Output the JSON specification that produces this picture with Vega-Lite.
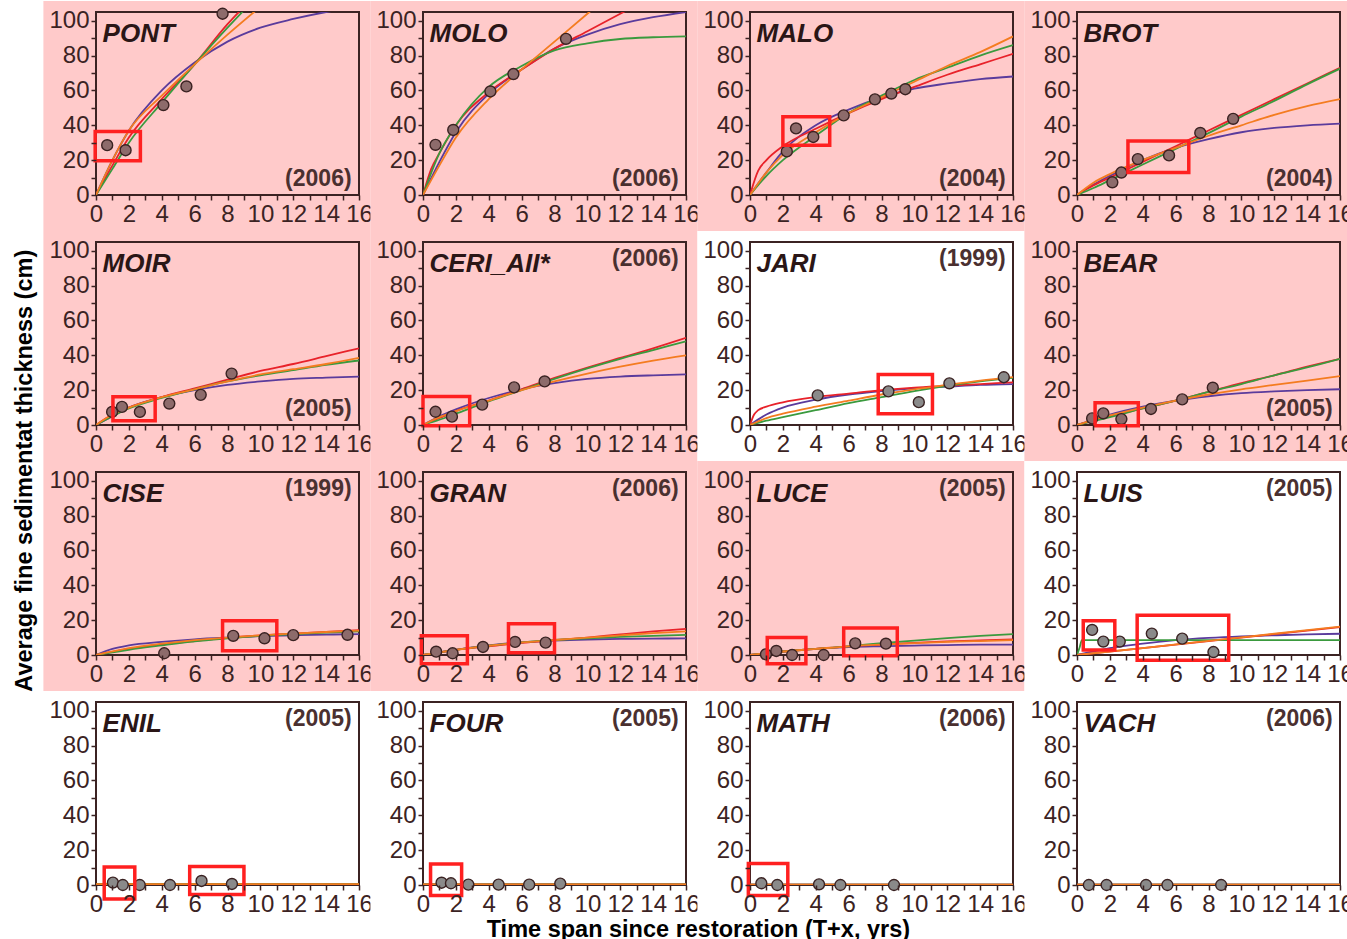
{
"$schema": "https://vega.github.io/schema/vega-lite/v6.json",
"background": "white",
"padding": {"left": 12, "top": 0, "right": 0, "bottom": 0},
"title": {"text": "Average fine sedimentat thickness (cm)", "orient": "left", "anchor": "middle", "fontSize": 23.5, "fontWeight": "bold", "font": "Liberation Sans", "color": "#000000", "offset": 7, "zindex": 1},
"datasets": {
"all": [
{"k":"p","p":"PONT","yr":"(2006)","grp":"A"},{"k":"p","p":"MOLO","yr":"(2006)","grp":"A"},{"k":"p","p":"MALO","yr":"(2004)","grp":"A"},{"k":"p","p":"BROT","yr":"(2004)","grp":"A"},
{"k":"p","p":"MOIR","yr":"(2005)","grp":"A"},{"k":"p","p":"CERI_AII*","yr":"(2006)","grp":"A"},{"k":"p","p":"JARI","yr":"(1999)","grp":"B"},{"k":"p","p":"BEAR","yr":"(2005)","grp":"A"},
{"k":"p","p":"CISE","yr":"(1999)","grp":"A"},{"k":"p","p":"GRAN","yr":"(2006)","grp":"A"},{"k":"p","p":"LUCE","yr":"(2005)","grp":"A"},{"k":"p","p":"LUIS","yr":"(2005)","grp":"B"},
{"k":"p","p":"ENIL","yr":"(2005)","grp":"B"},{"k":"p","p":"FOUR","yr":"(2005)","grp":"B"},{"k":"p","p":"MATH","yr":"(2006)","grp":"B"},{"k":"p","p":"VACH","yr":"(2006)","grp":"B"},

{"k":"f","p":"PONT","m":"pu","x":0,"y":0},{"k":"f","p":"PONT","m":"pu","x":1,"y":20},{"k":"f","p":"PONT","m":"pu","x":2,"y":37},{"k":"f","p":"PONT","m":"pu","x":4,"y":60},{"k":"f","p":"PONT","m":"pu","x":6,"y":76},{"k":"f","p":"PONT","m":"pu","x":8,"y":88},{"k":"f","p":"PONT","m":"pu","x":10,"y":96},{"k":"f","p":"PONT","m":"pu","x":12,"y":101},{"k":"f","p":"PONT","m":"pu","x":14,"y":105},{"k":"f","p":"PONT","m":"pu","x":16,"y":108},
{"k":"f","p":"PONT","m":"re","x":0,"y":0},{"k":"f","p":"PONT","m":"re","x":1,"y":17},{"k":"f","p":"PONT","m":"re","x":2,"y":33},{"k":"f","p":"PONT","m":"re","x":4,"y":55},{"k":"f","p":"PONT","m":"re","x":6,"y":75},{"k":"f","p":"PONT","m":"re","x":8,"y":98},{"k":"f","p":"PONT","m":"re","x":9,"y":108},
{"k":"f","p":"PONT","m":"gr","x":0,"y":0},{"k":"f","p":"PONT","m":"gr","x":1,"y":15},{"k":"f","p":"PONT","m":"gr","x":2,"y":30},{"k":"f","p":"PONT","m":"gr","x":4,"y":53},{"k":"f","p":"PONT","m":"gr","x":6,"y":75},{"k":"f","p":"PONT","m":"gr","x":8,"y":96},{"k":"f","p":"PONT","m":"gr","x":9,"y":106},
{"k":"f","p":"PONT","m":"or","x":0,"y":0},{"k":"f","p":"PONT","m":"or","x":1,"y":20},{"k":"f","p":"PONT","m":"or","x":2,"y":37},{"k":"f","p":"PONT","m":"or","x":4,"y":57},{"k":"f","p":"PONT","m":"or","x":6,"y":75},{"k":"f","p":"PONT","m":"or","x":8,"y":92},{"k":"f","p":"PONT","m":"or","x":10,"y":108},

{"k":"f","p":"MOLO","m":"pu","x":0,"y":0},{"k":"f","p":"MOLO","m":"pu","x":1,"y":19},{"k":"f","p":"MOLO","m":"pu","x":2,"y":36},{"k":"f","p":"MOLO","m":"pu","x":4,"y":58},{"k":"f","p":"MOLO","m":"pu","x":6,"y":72},{"k":"f","p":"MOLO","m":"pu","x":8,"y":84},{"k":"f","p":"MOLO","m":"pu","x":10,"y":92},{"k":"f","p":"MOLO","m":"pu","x":12,"y":98},{"k":"f","p":"MOLO","m":"pu","x":14,"y":102},{"k":"f","p":"MOLO","m":"pu","x":16,"y":105},
{"k":"f","p":"MOLO","m":"re","x":0,"y":0},{"k":"f","p":"MOLO","m":"re","x":0.5,"y":15},{"k":"f","p":"MOLO","m":"re","x":1,"y":24},{"k":"f","p":"MOLO","m":"re","x":2,"y":40},{"k":"f","p":"MOLO","m":"re","x":4,"y":59},{"k":"f","p":"MOLO","m":"re","x":6,"y":72},{"k":"f","p":"MOLO","m":"re","x":8,"y":84},{"k":"f","p":"MOLO","m":"re","x":10,"y":94},{"k":"f","p":"MOLO","m":"re","x":12,"y":104},{"k":"f","p":"MOLO","m":"re","x":13,"y":109},
{"k":"f","p":"MOLO","m":"gr","x":0,"y":0},{"k":"f","p":"MOLO","m":"gr","x":1,"y":24},{"k":"f","p":"MOLO","m":"gr","x":2,"y":40},{"k":"f","p":"MOLO","m":"gr","x":4,"y":62},{"k":"f","p":"MOLO","m":"gr","x":6,"y":74},{"k":"f","p":"MOLO","m":"gr","x":8,"y":83},{"k":"f","p":"MOLO","m":"gr","x":10,"y":87},{"k":"f","p":"MOLO","m":"gr","x":12,"y":89.5},{"k":"f","p":"MOLO","m":"gr","x":14,"y":90.5},{"k":"f","p":"MOLO","m":"gr","x":16,"y":91},
{"k":"f","p":"MOLO","m":"or","x":0,"y":0},{"k":"f","p":"MOLO","m":"or","x":1,"y":17},{"k":"f","p":"MOLO","m":"or","x":2,"y":33},{"k":"f","p":"MOLO","m":"or","x":4,"y":55},{"k":"f","p":"MOLO","m":"or","x":6,"y":72},{"k":"f","p":"MOLO","m":"or","x":8,"y":88},{"k":"f","p":"MOLO","m":"or","x":10,"y":104},{"k":"f","p":"MOLO","m":"or","x":11,"y":112},

{"k":"f","p":"MALO","m":"pu","x":0,"y":0},{"k":"f","p":"MALO","m":"pu","x":1,"y":13},{"k":"f","p":"MALO","m":"pu","x":2,"y":25},{"k":"f","p":"MALO","m":"pu","x":4,"y":40},{"k":"f","p":"MALO","m":"pu","x":6,"y":49},{"k":"f","p":"MALO","m":"pu","x":8,"y":56},{"k":"f","p":"MALO","m":"pu","x":10,"y":61},{"k":"f","p":"MALO","m":"pu","x":12,"y":64},{"k":"f","p":"MALO","m":"pu","x":14,"y":66.5},{"k":"f","p":"MALO","m":"pu","x":16,"y":68},
{"k":"f","p":"MALO","m":"re","x":0,"y":0},{"k":"f","p":"MALO","m":"re","x":0.5,"y":14},{"k":"f","p":"MALO","m":"re","x":1,"y":20},{"k":"f","p":"MALO","m":"re","x":2,"y":28},{"k":"f","p":"MALO","m":"re","x":4,"y":38},{"k":"f","p":"MALO","m":"re","x":6,"y":47},{"k":"f","p":"MALO","m":"re","x":8,"y":55},{"k":"f","p":"MALO","m":"re","x":10,"y":62},{"k":"f","p":"MALO","m":"re","x":12,"y":69},{"k":"f","p":"MALO","m":"re","x":14,"y":75},{"k":"f","p":"MALO","m":"re","x":16,"y":81},
{"k":"f","p":"MALO","m":"gr","x":0,"y":0},{"k":"f","p":"MALO","m":"gr","x":1,"y":11},{"k":"f","p":"MALO","m":"gr","x":2,"y":20},{"k":"f","p":"MALO","m":"gr","x":4,"y":34},{"k":"f","p":"MALO","m":"gr","x":6,"y":47},{"k":"f","p":"MALO","m":"gr","x":8,"y":57},{"k":"f","p":"MALO","m":"gr","x":10,"y":66},{"k":"f","p":"MALO","m":"gr","x":12,"y":73},{"k":"f","p":"MALO","m":"gr","x":14,"y":80},{"k":"f","p":"MALO","m":"gr","x":16,"y":86},
{"k":"f","p":"MALO","m":"or","x":0,"y":0},{"k":"f","p":"MALO","m":"or","x":1,"y":13},{"k":"f","p":"MALO","m":"or","x":2,"y":23},{"k":"f","p":"MALO","m":"or","x":4,"y":36},{"k":"f","p":"MALO","m":"or","x":6,"y":47},{"k":"f","p":"MALO","m":"or","x":8,"y":56},{"k":"f","p":"MALO","m":"or","x":10,"y":65},{"k":"f","p":"MALO","m":"or","x":12,"y":74},{"k":"f","p":"MALO","m":"or","x":14,"y":82},{"k":"f","p":"MALO","m":"or","x":16,"y":91},

{"k":"f","p":"BROT","m":"pu","x":0,"y":0},{"k":"f","p":"BROT","m":"pu","x":1,"y":6},{"k":"f","p":"BROT","m":"pu","x":2,"y":11},{"k":"f","p":"BROT","m":"pu","x":4,"y":20},{"k":"f","p":"BROT","m":"pu","x":6,"y":27},{"k":"f","p":"BROT","m":"pu","x":8,"y":32},{"k":"f","p":"BROT","m":"pu","x":10,"y":36},{"k":"f","p":"BROT","m":"pu","x":12,"y":38.5},{"k":"f","p":"BROT","m":"pu","x":14,"y":40},{"k":"f","p":"BROT","m":"pu","x":16,"y":41},
{"k":"f","p":"BROT","m":"re","x":0,"y":0},{"k":"f","p":"BROT","m":"re","x":0.5,"y":3},{"k":"f","p":"BROT","m":"re","x":1,"y":5.5},{"k":"f","p":"BROT","m":"re","x":2,"y":10},{"k":"f","p":"BROT","m":"re","x":4,"y":19},{"k":"f","p":"BROT","m":"re","x":6,"y":28},{"k":"f","p":"BROT","m":"re","x":8,"y":37},{"k":"f","p":"BROT","m":"re","x":10,"y":46},{"k":"f","p":"BROT","m":"re","x":12,"y":55},{"k":"f","p":"BROT","m":"re","x":14,"y":64},{"k":"f","p":"BROT","m":"re","x":16,"y":73},
{"k":"f","p":"BROT","m":"gr","x":0,"y":0},{"k":"f","p":"BROT","m":"gr","x":1,"y":4},{"k":"f","p":"BROT","m":"gr","x":2,"y":8.5},{"k":"f","p":"BROT","m":"gr","x":4,"y":17.5},{"k":"f","p":"BROT","m":"gr","x":6,"y":26.5},{"k":"f","p":"BROT","m":"gr","x":8,"y":35.5},{"k":"f","p":"BROT","m":"gr","x":10,"y":45},{"k":"f","p":"BROT","m":"gr","x":12,"y":54},{"k":"f","p":"BROT","m":"gr","x":14,"y":63.5},{"k":"f","p":"BROT","m":"gr","x":16,"y":72.5},
{"k":"f","p":"BROT","m":"or","x":0,"y":0},{"k":"f","p":"BROT","m":"or","x":1,"y":7},{"k":"f","p":"BROT","m":"or","x":2,"y":12},{"k":"f","p":"BROT","m":"or","x":4,"y":20},{"k":"f","p":"BROT","m":"or","x":6,"y":27},{"k":"f","p":"BROT","m":"or","x":8,"y":34},{"k":"f","p":"BROT","m":"or","x":10,"y":40},{"k":"f","p":"BROT","m":"or","x":12,"y":46},{"k":"f","p":"BROT","m":"or","x":14,"y":51},{"k":"f","p":"BROT","m":"or","x":16,"y":55},

{"k":"f","p":"MOIR","m":"pu","x":0,"y":0},{"k":"f","p":"MOIR","m":"pu","x":1,"y":5},{"k":"f","p":"MOIR","m":"pu","x":2,"y":10},{"k":"f","p":"MOIR","m":"pu","x":4,"y":16},{"k":"f","p":"MOIR","m":"pu","x":6,"y":20},{"k":"f","p":"MOIR","m":"pu","x":8,"y":23},{"k":"f","p":"MOIR","m":"pu","x":10,"y":25},{"k":"f","p":"MOIR","m":"pu","x":12,"y":26.5},{"k":"f","p":"MOIR","m":"pu","x":14,"y":27.2},{"k":"f","p":"MOIR","m":"pu","x":16,"y":27.8},
{"k":"f","p":"MOIR","m":"re","x":0,"y":0},{"k":"f","p":"MOIR","m":"re","x":1,"y":6},{"k":"f","p":"MOIR","m":"re","x":2,"y":10},{"k":"f","p":"MOIR","m":"re","x":4,"y":16},{"k":"f","p":"MOIR","m":"re","x":6,"y":21},{"k":"f","p":"MOIR","m":"re","x":8,"y":26},{"k":"f","p":"MOIR","m":"re","x":10,"y":31},{"k":"f","p":"MOIR","m":"re","x":12,"y":35},{"k":"f","p":"MOIR","m":"re","x":14,"y":39.5},{"k":"f","p":"MOIR","m":"re","x":16,"y":44},
{"k":"f","p":"MOIR","m":"gr","x":0,"y":0},{"k":"f","p":"MOIR","m":"gr","x":1,"y":5},{"k":"f","p":"MOIR","m":"gr","x":2,"y":9.5},{"k":"f","p":"MOIR","m":"gr","x":4,"y":15.5},{"k":"f","p":"MOIR","m":"gr","x":6,"y":20.5},{"k":"f","p":"MOIR","m":"gr","x":8,"y":25},{"k":"f","p":"MOIR","m":"gr","x":10,"y":28.5},{"k":"f","p":"MOIR","m":"gr","x":12,"y":31.5},{"k":"f","p":"MOIR","m":"gr","x":14,"y":34.5},{"k":"f","p":"MOIR","m":"gr","x":16,"y":37},
{"k":"f","p":"MOIR","m":"or","x":0,"y":0},{"k":"f","p":"MOIR","m":"or","x":1,"y":6},{"k":"f","p":"MOIR","m":"or","x":2,"y":10},{"k":"f","p":"MOIR","m":"or","x":4,"y":16},{"k":"f","p":"MOIR","m":"or","x":6,"y":20.5},{"k":"f","p":"MOIR","m":"or","x":8,"y":25},{"k":"f","p":"MOIR","m":"or","x":10,"y":29},{"k":"f","p":"MOIR","m":"or","x":12,"y":32},{"k":"f","p":"MOIR","m":"or","x":14,"y":35},{"k":"f","p":"MOIR","m":"or","x":16,"y":38.5},

{"k":"f","p":"CERI_AII*","m":"pu","x":0,"y":0},{"k":"f","p":"CERI_AII*","m":"pu","x":1,"y":5},{"k":"f","p":"CERI_AII*","m":"pu","x":2,"y":9},{"k":"f","p":"CERI_AII*","m":"pu","x":4,"y":15.5},{"k":"f","p":"CERI_AII*","m":"pu","x":6,"y":20.5},{"k":"f","p":"CERI_AII*","m":"pu","x":8,"y":24},{"k":"f","p":"CERI_AII*","m":"pu","x":10,"y":26.5},{"k":"f","p":"CERI_AII*","m":"pu","x":12,"y":27.8},{"k":"f","p":"CERI_AII*","m":"pu","x":14,"y":28.5},{"k":"f","p":"CERI_AII*","m":"pu","x":16,"y":29},
{"k":"f","p":"CERI_AII*","m":"re","x":0,"y":0},{"k":"f","p":"CERI_AII*","m":"re","x":1,"y":4},{"k":"f","p":"CERI_AII*","m":"re","x":2,"y":8},{"k":"f","p":"CERI_AII*","m":"re","x":4,"y":14},{"k":"f","p":"CERI_AII*","m":"re","x":6,"y":20.5},{"k":"f","p":"CERI_AII*","m":"re","x":8,"y":27},{"k":"f","p":"CERI_AII*","m":"re","x":10,"y":33},{"k":"f","p":"CERI_AII*","m":"re","x":12,"y":38.5},{"k":"f","p":"CERI_AII*","m":"re","x":14,"y":44},{"k":"f","p":"CERI_AII*","m":"re","x":16,"y":50},
{"k":"f","p":"CERI_AII*","m":"gr","x":0,"y":0},{"k":"f","p":"CERI_AII*","m":"gr","x":1,"y":3},{"k":"f","p":"CERI_AII*","m":"gr","x":2,"y":6.5},{"k":"f","p":"CERI_AII*","m":"gr","x":4,"y":13.5},{"k":"f","p":"CERI_AII*","m":"gr","x":6,"y":20},{"k":"f","p":"CERI_AII*","m":"gr","x":8,"y":26.5},{"k":"f","p":"CERI_AII*","m":"gr","x":10,"y":32.5},{"k":"f","p":"CERI_AII*","m":"gr","x":12,"y":38},{"k":"f","p":"CERI_AII*","m":"gr","x":14,"y":43},{"k":"f","p":"CERI_AII*","m":"gr","x":16,"y":48},
{"k":"f","p":"CERI_AII*","m":"or","x":0,"y":0},{"k":"f","p":"CERI_AII*","m":"or","x":1,"y":4.5},{"k":"f","p":"CERI_AII*","m":"or","x":2,"y":8},{"k":"f","p":"CERI_AII*","m":"or","x":4,"y":14},{"k":"f","p":"CERI_AII*","m":"or","x":6,"y":20},{"k":"f","p":"CERI_AII*","m":"or","x":8,"y":25},{"k":"f","p":"CERI_AII*","m":"or","x":10,"y":29.5},{"k":"f","p":"CERI_AII*","m":"or","x":12,"y":33.5},{"k":"f","p":"CERI_AII*","m":"or","x":14,"y":37},{"k":"f","p":"CERI_AII*","m":"or","x":16,"y":40},

{"k":"f","p":"JARI","m":"pu","x":0,"y":0},{"k":"f","p":"JARI","m":"pu","x":1,"y":6},{"k":"f","p":"JARI","m":"pu","x":2,"y":10},{"k":"f","p":"JARI","m":"pu","x":4,"y":14.5},{"k":"f","p":"JARI","m":"pu","x":6,"y":17.5},{"k":"f","p":"JARI","m":"pu","x":8,"y":19.5},{"k":"f","p":"JARI","m":"pu","x":10,"y":21},{"k":"f","p":"JARI","m":"pu","x":12,"y":22},{"k":"f","p":"JARI","m":"pu","x":14,"y":23},{"k":"f","p":"JARI","m":"pu","x":16,"y":23.5},
{"k":"f","p":"JARI","m":"re","x":0,"y":0},{"k":"f","p":"JARI","m":"re","x":0.25,"y":6},{"k":"f","p":"JARI","m":"re","x":0.5,"y":8.5},{"k":"f","p":"JARI","m":"re","x":1,"y":10.5},{"k":"f","p":"JARI","m":"re","x":2,"y":13},{"k":"f","p":"JARI","m":"re","x":4,"y":16},{"k":"f","p":"JARI","m":"re","x":6,"y":18},{"k":"f","p":"JARI","m":"re","x":8,"y":20},{"k":"f","p":"JARI","m":"re","x":10,"y":21.5},{"k":"f","p":"JARI","m":"re","x":12,"y":22.5},{"k":"f","p":"JARI","m":"re","x":14,"y":23.5},{"k":"f","p":"JARI","m":"re","x":16,"y":24.5},
{"k":"f","p":"JARI","m":"gr","x":0,"y":0},{"k":"f","p":"JARI","m":"gr","x":1,"y":2.5},{"k":"f","p":"JARI","m":"gr","x":2,"y":4.5},{"k":"f","p":"JARI","m":"gr","x":4,"y":8.5},{"k":"f","p":"JARI","m":"gr","x":6,"y":12.5},{"k":"f","p":"JARI","m":"gr","x":8,"y":16},{"k":"f","p":"JARI","m":"gr","x":10,"y":19.5},{"k":"f","p":"JARI","m":"gr","x":12,"y":22.5},{"k":"f","p":"JARI","m":"gr","x":14,"y":25},{"k":"f","p":"JARI","m":"gr","x":16,"y":27},
{"k":"f","p":"JARI","m":"or","x":0,"y":0},{"k":"f","p":"JARI","m":"or","x":1,"y":4},{"k":"f","p":"JARI","m":"or","x":2,"y":6.5},{"k":"f","p":"JARI","m":"or","x":4,"y":10.5},{"k":"f","p":"JARI","m":"or","x":6,"y":14},{"k":"f","p":"JARI","m":"or","x":8,"y":17.5},{"k":"f","p":"JARI","m":"or","x":10,"y":20.5},{"k":"f","p":"JARI","m":"or","x":12,"y":23},{"k":"f","p":"JARI","m":"or","x":14,"y":25.5},{"k":"f","p":"JARI","m":"or","x":16,"y":27.5},

{"k":"f","p":"BEAR","m":"pu","x":0,"y":0},{"k":"f","p":"BEAR","m":"pu","x":1,"y":3},{"k":"f","p":"BEAR","m":"pu","x":2,"y":6},{"k":"f","p":"BEAR","m":"pu","x":4,"y":10.5},{"k":"f","p":"BEAR","m":"pu","x":6,"y":14},{"k":"f","p":"BEAR","m":"pu","x":8,"y":16.5},{"k":"f","p":"BEAR","m":"pu","x":10,"y":18.3},{"k":"f","p":"BEAR","m":"pu","x":12,"y":19.3},{"k":"f","p":"BEAR","m":"pu","x":14,"y":20},{"k":"f","p":"BEAR","m":"pu","x":16,"y":20.5},
{"k":"f","p":"BEAR","m":"re","x":0,"y":0},{"k":"f","p":"BEAR","m":"re","x":2,"y":5},{"k":"f","p":"BEAR","m":"re","x":4,"y":9.5},{"k":"f","p":"BEAR","m":"re","x":6,"y":14},{"k":"f","p":"BEAR","m":"re","x":8,"y":19},{"k":"f","p":"BEAR","m":"re","x":10,"y":24},{"k":"f","p":"BEAR","m":"re","x":12,"y":28.5},{"k":"f","p":"BEAR","m":"re","x":14,"y":33.5},{"k":"f","p":"BEAR","m":"re","x":16,"y":38},
{"k":"f","p":"BEAR","m":"gr","x":0,"y":0},{"k":"f","p":"BEAR","m":"gr","x":2,"y":4.5},{"k":"f","p":"BEAR","m":"gr","x":4,"y":9.5},{"k":"f","p":"BEAR","m":"gr","x":6,"y":14},{"k":"f","p":"BEAR","m":"gr","x":8,"y":19},{"k":"f","p":"BEAR","m":"gr","x":10,"y":23.5},{"k":"f","p":"BEAR","m":"gr","x":12,"y":28.5},{"k":"f","p":"BEAR","m":"gr","x":14,"y":33},{"k":"f","p":"BEAR","m":"gr","x":16,"y":38},
{"k":"f","p":"BEAR","m":"or","x":0,"y":0},{"k":"f","p":"BEAR","m":"or","x":1,"y":3},{"k":"f","p":"BEAR","m":"or","x":2,"y":5.5},{"k":"f","p":"BEAR","m":"or","x":4,"y":10},{"k":"f","p":"BEAR","m":"or","x":6,"y":14},{"k":"f","p":"BEAR","m":"or","x":8,"y":17.5},{"k":"f","p":"BEAR","m":"or","x":10,"y":20.5},{"k":"f","p":"BEAR","m":"or","x":12,"y":23},{"k":"f","p":"BEAR","m":"or","x":14,"y":25.5},{"k":"f","p":"BEAR","m":"or","x":16,"y":28},

{"k":"f","p":"CISE","m":"pu","x":0,"y":0},{"k":"f","p":"CISE","m":"pu","x":1,"y":3.5},{"k":"f","p":"CISE","m":"pu","x":2,"y":5.5},{"k":"f","p":"CISE","m":"pu","x":4,"y":7.5},{"k":"f","p":"CISE","m":"pu","x":6,"y":9},{"k":"f","p":"CISE","m":"pu","x":8,"y":10},{"k":"f","p":"CISE","m":"pu","x":10,"y":10.8},{"k":"f","p":"CISE","m":"pu","x":12,"y":11.3},{"k":"f","p":"CISE","m":"pu","x":14,"y":11.7},{"k":"f","p":"CISE","m":"pu","x":16,"y":12},
{"k":"f","p":"CISE","m":"re","x":0,"y":0},{"k":"f","p":"CISE","m":"re","x":2,"y":3.5},{"k":"f","p":"CISE","m":"re","x":4,"y":6},{"k":"f","p":"CISE","m":"re","x":6,"y":8},{"k":"f","p":"CISE","m":"re","x":8,"y":9.8},{"k":"f","p":"CISE","m":"re","x":10,"y":11.2},{"k":"f","p":"CISE","m":"re","x":12,"y":12.3},{"k":"f","p":"CISE","m":"re","x":14,"y":13.3},{"k":"f","p":"CISE","m":"re","x":16,"y":14.2},
{"k":"f","p":"CISE","m":"gr","x":0,"y":0},{"k":"f","p":"CISE","m":"gr","x":1,"y":1.5},{"k":"f","p":"CISE","m":"gr","x":2,"y":3},{"k":"f","p":"CISE","m":"gr","x":4,"y":5.5},{"k":"f","p":"CISE","m":"gr","x":6,"y":7.8},{"k":"f","p":"CISE","m":"gr","x":8,"y":9.5},{"k":"f","p":"CISE","m":"gr","x":10,"y":11},{"k":"f","p":"CISE","m":"gr","x":12,"y":12},{"k":"f","p":"CISE","m":"gr","x":14,"y":12.8},{"k":"f","p":"CISE","m":"gr","x":16,"y":13.5},
{"k":"f","p":"CISE","m":"or","x":0,"y":0},{"k":"f","p":"CISE","m":"or","x":2,"y":4},{"k":"f","p":"CISE","m":"or","x":4,"y":6.5},{"k":"f","p":"CISE","m":"or","x":6,"y":8.5},{"k":"f","p":"CISE","m":"or","x":8,"y":10},{"k":"f","p":"CISE","m":"or","x":10,"y":11.3},{"k":"f","p":"CISE","m":"or","x":12,"y":12.3},{"k":"f","p":"CISE","m":"or","x":14,"y":13.2},{"k":"f","p":"CISE","m":"or","x":16,"y":14},

{"k":"f","p":"GRAN","m":"pu","x":0,"y":0},{"k":"f","p":"GRAN","m":"pu","x":2,"y":3},{"k":"f","p":"GRAN","m":"pu","x":4,"y":5.5},{"k":"f","p":"GRAN","m":"pu","x":6,"y":7.3},{"k":"f","p":"GRAN","m":"pu","x":8,"y":8.3},{"k":"f","p":"GRAN","m":"pu","x":10,"y":8.9},{"k":"f","p":"GRAN","m":"pu","x":12,"y":9.2},{"k":"f","p":"GRAN","m":"pu","x":14,"y":9.4},{"k":"f","p":"GRAN","m":"pu","x":16,"y":9.5},
{"k":"f","p":"GRAN","m":"re","x":0,"y":0},{"k":"f","p":"GRAN","m":"re","x":2,"y":3},{"k":"f","p":"GRAN","m":"re","x":4,"y":5},{"k":"f","p":"GRAN","m":"re","x":6,"y":7},{"k":"f","p":"GRAN","m":"re","x":8,"y":8.5},{"k":"f","p":"GRAN","m":"re","x":10,"y":10},{"k":"f","p":"GRAN","m":"re","x":12,"y":11.8},{"k":"f","p":"GRAN","m":"re","x":14,"y":13.5},{"k":"f","p":"GRAN","m":"re","x":16,"y":15},
{"k":"f","p":"GRAN","m":"gr","x":0,"y":0},{"k":"f","p":"GRAN","m":"gr","x":2,"y":3},{"k":"f","p":"GRAN","m":"gr","x":4,"y":5.3},{"k":"f","p":"GRAN","m":"gr","x":6,"y":7.3},{"k":"f","p":"GRAN","m":"gr","x":8,"y":8.6},{"k":"f","p":"GRAN","m":"gr","x":10,"y":9.6},{"k":"f","p":"GRAN","m":"gr","x":12,"y":10.4},{"k":"f","p":"GRAN","m":"gr","x":14,"y":11},{"k":"f","p":"GRAN","m":"gr","x":16,"y":11.5},
{"k":"f","p":"GRAN","m":"or","x":0,"y":0},{"k":"f","p":"GRAN","m":"or","x":2,"y":3},{"k":"f","p":"GRAN","m":"or","x":4,"y":5.3},{"k":"f","p":"GRAN","m":"or","x":6,"y":7.2},{"k":"f","p":"GRAN","m":"or","x":8,"y":8.6},{"k":"f","p":"GRAN","m":"or","x":10,"y":10},{"k":"f","p":"GRAN","m":"or","x":12,"y":11.3},{"k":"f","p":"GRAN","m":"or","x":14,"y":12.5},{"k":"f","p":"GRAN","m":"or","x":16,"y":13.5},

{"k":"f","p":"LUCE","m":"pu","x":0,"y":0},{"k":"f","p":"LUCE","m":"pu","x":2,"y":2},{"k":"f","p":"LUCE","m":"pu","x":4,"y":3.5},{"k":"f","p":"LUCE","m":"pu","x":6,"y":4.5},{"k":"f","p":"LUCE","m":"pu","x":8,"y":5},{"k":"f","p":"LUCE","m":"pu","x":10,"y":5.4},{"k":"f","p":"LUCE","m":"pu","x":12,"y":5.7},{"k":"f","p":"LUCE","m":"pu","x":14,"y":5.9},{"k":"f","p":"LUCE","m":"pu","x":16,"y":6},
{"k":"f","p":"LUCE","m":"re","x":0,"y":0},{"k":"f","p":"LUCE","m":"re","x":2,"y":2},{"k":"f","p":"LUCE","m":"re","x":4,"y":3.5},{"k":"f","p":"LUCE","m":"re","x":6,"y":5},{"k":"f","p":"LUCE","m":"re","x":8,"y":6},{"k":"f","p":"LUCE","m":"re","x":10,"y":7},{"k":"f","p":"LUCE","m":"re","x":12,"y":7.8},{"k":"f","p":"LUCE","m":"re","x":14,"y":8.4},{"k":"f","p":"LUCE","m":"re","x":16,"y":9},
{"k":"f","p":"LUCE","m":"gr","x":0,"y":0},{"k":"f","p":"LUCE","m":"gr","x":2,"y":2},{"k":"f","p":"LUCE","m":"gr","x":4,"y":3.5},{"k":"f","p":"LUCE","m":"gr","x":6,"y":5},{"k":"f","p":"LUCE","m":"gr","x":8,"y":6.8},{"k":"f","p":"LUCE","m":"gr","x":10,"y":8.3},{"k":"f","p":"LUCE","m":"gr","x":12,"y":9.7},{"k":"f","p":"LUCE","m":"gr","x":14,"y":11},{"k":"f","p":"LUCE","m":"gr","x":16,"y":12},
{"k":"f","p":"LUCE","m":"or","x":0,"y":0},{"k":"f","p":"LUCE","m":"or","x":2,"y":2},{"k":"f","p":"LUCE","m":"or","x":4,"y":3.5},{"k":"f","p":"LUCE","m":"or","x":6,"y":5},{"k":"f","p":"LUCE","m":"or","x":8,"y":6},{"k":"f","p":"LUCE","m":"or","x":10,"y":6.8},{"k":"f","p":"LUCE","m":"or","x":12,"y":7.5},{"k":"f","p":"LUCE","m":"or","x":14,"y":8},{"k":"f","p":"LUCE","m":"or","x":16,"y":8.5},

{"k":"f","p":"LUIS","m":"pu","x":0,"y":0},{"k":"f","p":"LUIS","m":"pu","x":2,"y":4},{"k":"f","p":"LUIS","m":"pu","x":4,"y":6.5},{"k":"f","p":"LUIS","m":"pu","x":6,"y":8.5},{"k":"f","p":"LUIS","m":"pu","x":8,"y":9.8},{"k":"f","p":"LUIS","m":"pu","x":10,"y":10.7},{"k":"f","p":"LUIS","m":"pu","x":12,"y":11.3},{"k":"f","p":"LUIS","m":"pu","x":14,"y":11.8},{"k":"f","p":"LUIS","m":"pu","x":16,"y":12.2},
{"k":"f","p":"LUIS","m":"re","x":0,"y":0},{"k":"f","p":"LUIS","m":"re","x":4,"y":4},{"k":"f","p":"LUIS","m":"re","x":8,"y":8},{"k":"f","p":"LUIS","m":"re","x":12,"y":12},{"k":"f","p":"LUIS","m":"re","x":16,"y":16},
{"k":"f","p":"LUIS","m":"gr","x":0,"y":0},{"k":"f","p":"LUIS","m":"gr","x":0.15,"y":4},{"k":"f","p":"LUIS","m":"gr","x":0.3,"y":8.5},{"k":"f","p":"LUIS","m":"gr","x":4,"y":8.5},{"k":"f","p":"LUIS","m":"gr","x":8,"y":8.5},{"k":"f","p":"LUIS","m":"gr","x":12,"y":8.5},{"k":"f","p":"LUIS","m":"gr","x":16,"y":8.5},
{"k":"f","p":"LUIS","m":"or","x":0,"y":0},{"k":"f","p":"LUIS","m":"or","x":4,"y":4},{"k":"f","p":"LUIS","m":"or","x":8,"y":8.1},{"k":"f","p":"LUIS","m":"or","x":12,"y":12.2},{"k":"f","p":"LUIS","m":"or","x":16,"y":16.3},

{"k":"f","p":"ENIL","m":"pu","x":0,"y":0.5},{"k":"f","p":"ENIL","m":"pu","x":16,"y":0.5},{"k":"f","p":"ENIL","m":"re","x":0,"y":0.5},{"k":"f","p":"ENIL","m":"re","x":16,"y":0.5},{"k":"f","p":"ENIL","m":"gr","x":0,"y":0.5},{"k":"f","p":"ENIL","m":"gr","x":16,"y":0.5},{"k":"f","p":"ENIL","m":"or","x":0,"y":0.5},{"k":"f","p":"ENIL","m":"or","x":16,"y":0.5},
{"k":"f","p":"FOUR","m":"pu","x":0,"y":0.3},{"k":"f","p":"FOUR","m":"pu","x":16,"y":0.3},{"k":"f","p":"FOUR","m":"re","x":0,"y":0.3},{"k":"f","p":"FOUR","m":"re","x":16,"y":0.3},{"k":"f","p":"FOUR","m":"gr","x":0,"y":0.3},{"k":"f","p":"FOUR","m":"gr","x":16,"y":0.3},{"k":"f","p":"FOUR","m":"or","x":0,"y":0.3},{"k":"f","p":"FOUR","m":"or","x":16,"y":0.3},
{"k":"f","p":"MATH","m":"pu","x":0,"y":0.2},{"k":"f","p":"MATH","m":"pu","x":16,"y":0.2},{"k":"f","p":"MATH","m":"re","x":0,"y":0.2},{"k":"f","p":"MATH","m":"re","x":16,"y":0.2},{"k":"f","p":"MATH","m":"gr","x":0,"y":0.2},{"k":"f","p":"MATH","m":"gr","x":16,"y":0.2},{"k":"f","p":"MATH","m":"or","x":0,"y":0.2},{"k":"f","p":"MATH","m":"or","x":16,"y":0.2},
{"k":"f","p":"VACH","m":"pu","x":0,"y":0.2},{"k":"f","p":"VACH","m":"pu","x":16,"y":0.2},{"k":"f","p":"VACH","m":"re","x":0,"y":0.2},{"k":"f","p":"VACH","m":"re","x":16,"y":0.2},{"k":"f","p":"VACH","m":"gr","x":0,"y":0.2},{"k":"f","p":"VACH","m":"gr","x":16,"y":0.2},{"k":"f","p":"VACH","m":"or","x":0,"y":0.2},{"k":"f","p":"VACH","m":"or","x":16,"y":0.2},

{"k":"o","p":"PONT","x":0.68,"y":28.6},{"k":"o","p":"PONT","x":1.8,"y":25.7},{"k":"o","p":"PONT","x":4.1,"y":51.6},{"k":"o","p":"PONT","x":5.5,"y":62.3},{"k":"o","p":"PONT","x":7.7,"y":104},
{"k":"o","p":"MOLO","x":0.76,"y":28.8},{"k":"o","p":"MOLO","x":1.84,"y":37.3},{"k":"o","p":"MOLO","x":4.1,"y":59.4},{"k":"o","p":"MOLO","x":5.5,"y":69.4},{"k":"o","p":"MOLO","x":8.7,"y":89.6},
{"k":"o","p":"MALO","x":2.24,"y":25},{"k":"o","p":"MALO","x":2.8,"y":38.2},{"k":"o","p":"MALO","x":3.85,"y":33.3},{"k":"o","p":"MALO","x":5.7,"y":45.7},{"k":"o","p":"MALO","x":7.6,"y":54.9},{"k":"o","p":"MALO","x":8.6,"y":58.2},{"k":"o","p":"MALO","x":9.45,"y":60.7},
{"k":"o","p":"BROT","x":2.15,"y":7.3},{"k":"o","p":"BROT","x":2.7,"y":12.9},{"k":"o","p":"BROT","x":3.7,"y":20.6},{"k":"o","p":"BROT","x":5.6,"y":22.7},{"k":"o","p":"BROT","x":7.5,"y":35.6},{"k":"o","p":"BROT","x":9.5,"y":43.7},
{"k":"o","p":"MOIR","x":0.98,"y":7.5},{"k":"o","p":"MOIR","x":1.58,"y":10.4},{"k":"o","p":"MOIR","x":2.67,"y":7.5},{"k":"o","p":"MOIR","x":4.46,"y":12.3},{"k":"o","p":"MOIR","x":6.37,"y":17.3},{"k":"o","p":"MOIR","x":8.25,"y":29.5},
{"k":"o","p":"CERI_AII*","x":0.76,"y":7.6},{"k":"o","p":"CERI_AII*","x":1.76,"y":4.8},{"k":"o","p":"CERI_AII*","x":3.6,"y":11.7},{"k":"o","p":"CERI_AII*","x":5.54,"y":21.6},{"k":"o","p":"CERI_AII*","x":7.4,"y":25},
{"k":"o","p":"JARI","x":4.12,"y":17},{"k":"o","p":"JARI","x":8.42,"y":19.3},{"k":"o","p":"JARI","x":10.27,"y":13.1},{"k":"o","p":"JARI","x":12.13,"y":23.9},{"k":"o","p":"JARI","x":15.44,"y":27.4},
{"k":"o","p":"BEAR","x":0.92,"y":3.8},{"k":"o","p":"BEAR","x":1.6,"y":6.7},{"k":"o","p":"BEAR","x":2.7,"y":3.4},{"k":"o","p":"BEAR","x":4.5,"y":9.2},{"k":"o","p":"BEAR","x":6.4,"y":14.7},{"k":"o","p":"BEAR","x":8.26,"y":21.4},
{"k":"o","p":"CISE","x":4.15,"y":1},{"k":"o","p":"CISE","x":8.35,"y":11},{"k":"o","p":"CISE","x":10.25,"y":9.6},{"k":"o","p":"CISE","x":12.0,"y":11.4},{"k":"o","p":"CISE","x":15.3,"y":11.6},
{"k":"o","p":"GRAN","x":0.8,"y":1.9},{"k":"o","p":"GRAN","x":1.8,"y":1},{"k":"o","p":"GRAN","x":3.65,"y":4.6},{"k":"o","p":"GRAN","x":5.6,"y":7.5},{"k":"o","p":"GRAN","x":7.46,"y":7.1},
{"k":"o","p":"LUCE","x":0.97,"y":0.4},{"k":"o","p":"LUCE","x":1.6,"y":2.3},{"k":"o","p":"LUCE","x":2.56,"y":0},{"k":"o","p":"LUCE","x":4.48,"y":0},{"k":"o","p":"LUCE","x":6.4,"y":6.7},{"k":"o","p":"LUCE","x":8.27,"y":6.5},
{"k":"o","p":"LUIS","x":0.92,"y":14.4},{"k":"o","p":"LUIS","x":1.6,"y":7.7},{"k":"o","p":"LUIS","x":2.6,"y":7.7},{"k":"o","p":"LUIS","x":4.55,"y":12.3},{"k":"o","p":"LUIS","x":6.4,"y":9.4},{"k":"o","p":"LUIS","x":8.3,"y":1.7},
{"k":"o","p":"ENIL","x":1.03,"y":1.4},{"k":"o","p":"ENIL","x":1.63,"y":0},{"k":"o","p":"ENIL","x":2.66,"y":0},{"k":"o","p":"ENIL","x":4.5,"y":0},{"k":"o","p":"ENIL","x":6.42,"y":2.3},{"k":"o","p":"ENIL","x":8.27,"y":0.6},
{"k":"o","p":"FOUR","x":1.13,"y":1.3},{"k":"o","p":"FOUR","x":1.7,"y":1},{"k":"o","p":"FOUR","x":2.76,"y":0.2},{"k":"o","p":"FOUR","x":4.6,"y":0.2},{"k":"o","p":"FOUR","x":6.46,"y":0.2},{"k":"o","p":"FOUR","x":8.35,"y":0.8},
{"k":"o","p":"MATH","x":0.69,"y":1},{"k":"o","p":"MATH","x":1.66,"y":0},{"k":"o","p":"MATH","x":4.2,"y":0.4},{"k":"o","p":"MATH","x":5.5,"y":0},{"k":"o","p":"MATH","x":8.76,"y":0},
{"k":"o","p":"VACH","x":0.72,"y":0},{"k":"o","p":"VACH","x":1.8,"y":0},{"k":"o","p":"VACH","x":4.2,"y":0},{"k":"o","p":"VACH","x":5.5,"y":0},{"k":"o","p":"VACH","x":8.77,"y":0},

{"k":"b","p":"PONT","x":-0.05,"x2":2.7,"y":19.7,"y2":36.4},
{"k":"b","p":"MALO","x":2.0,"x2":4.85,"y":28.5,"y2":44.9},
{"k":"b","p":"BROT","x":3.1,"x2":6.8,"y":12.9,"y2":31},
{"k":"b","p":"MOIR","x":1.03,"x2":3.6,"y":2.5,"y2":16.2},
{"k":"b","p":"CERI_AII*","x":0,"x2":2.84,"y":-0.5,"y2":16.3},
{"k":"b","p":"JARI","x":7.8,"x2":11.1,"y":6.4,"y2":29},
{"k":"b","p":"BEAR","x":1.1,"x2":3.73,"y":-0.5,"y2":12.8},
{"k":"b","p":"CISE","x":7.7,"x2":11.0,"y":2.5,"y2":19.7},
{"k":"b","p":"GRAN","x":-0.1,"x2":2.7,"y":-5,"y2":11},
{"k":"b","p":"GRAN","x":5.2,"x2":8.0,"y":1.3,"y2":18},
{"k":"b","p":"LUCE","x":1.05,"x2":3.4,"y":-5,"y2":10},
{"k":"b","p":"LUCE","x":5.7,"x2":8.96,"y":-0.5,"y2":15.5},
{"k":"b","p":"LUIS","x":0.38,"x2":2.3,"y":2.9,"y2":19.7},
{"k":"b","p":"LUIS","x":3.66,"x2":9.23,"y":-3,"y2":22.8},
{"k":"b","p":"ENIL","x":0.5,"x2":2.36,"y":-8,"y2":10.3},
{"k":"b","p":"ENIL","x":5.7,"x2":9.0,"y":-5.4,"y2":10.6},
{"k":"b","p":"FOUR","x":0.46,"x2":2.35,"y":-6,"y2":12},
{"k":"b","p":"MATH","x":-0.1,"x2":2.3,"y":-6,"y2":12.3}
]
},
"vconcat": [{
"title": {"text": "Time span since restoration (T+x, yrs)", "orient": "bottom", "anchor": "middle", "fontSize": 23.5, "fontWeight": "bold", "font": "Liberation Sans", "color": "#000000", "offset": -3, "zindex": 1},
"data": {"name": "all"},
"facet": {"field": "p", "type": "nominal", "sort": ["PONT","MOLO","MALO","BROT","MOIR","CERI_AII*","JARI","BEAR","CISE","GRAN","LUCE","LUIS","ENIL","FOUR","MATH","VACH"], "header": {"labels": false, "title": null, "labelExpr": "''", "labelFontSize": 1, "labelPadding": 0}},
"columns": 4,
"spacing": {"row": 47, "column": 64},
"bounds": "flush",
"resolve": {"axis": {"x": "independent", "y": "independent"}},
"spec": {
"width": 263,
"height": 183,
"layer": [
{
"transform": [{"filter": "datum.k === 'p'"}],
"mark": {"type": "rect"},
"encoding": {
"x": {"datum": -3.2, "type": "quantitative", "scale": {"domain": [0,16], "nice": false, "zero": false}, "axis": {"title": null, "zindex": 1, "labelOverlap": false, "values": [0,1,2,3,4,5,6,7,8,9,10,11,12,13,14,15,16], "labelExpr": "datum.value % 2 ? '' : datum.label"}},
"x2": {"datum": 16.7},
"y": {"datum": -20.6, "type": "quantitative", "scale": {"domain": [0,105], "nice": false, "zero": false}, "axis": {"title": null, "zindex": 1, "labelOverlap": false, "values": [0,10,20,30,40,50,60,70,80,90,100], "labelExpr": "datum.value % 20 ? '' : datum.label"}},
"y2": {"datum": 111.3},
"fill": {"field": "grp", "type": "nominal", "scale": {"domain": ["A","B"], "range": ["#ffcaca","#ffffff"]}, "legend": null}
}
},
{
"transform": [{"filter": "datum.k === 'p'"}],
"mark": {"type": "rect", "filled": false, "stroke": "#3b2323", "strokeWidth": 2},
"encoding": {
"x": {"datum": 0, "type": "quantitative", "axis": {"title": null, "zindex": 1, "labelOverlap": false, "values": [0,1,2,3,4,5,6,7,8,9,10,11,12,13,14,15,16], "labelExpr": "datum.value % 2 ? '' : datum.label"}},
"x2": {"datum": 16},
"y": {"datum": 0, "type": "quantitative", "axis": {"title": null, "zindex": 1, "labelOverlap": false, "values": [0,10,20,30,40,50,60,70,80,90,100], "labelExpr": "datum.value % 20 ? '' : datum.label"}},
"y2": {"datum": 105}
}
},
{
"transform": [{"filter": "datum.k === 'f'"}],
"mark": {"type": "line", "interpolate": "monotone", "clip": true, "strokeWidth": 1.8},
"encoding": {
"x": {"field": "x", "type": "quantitative", "axis": {"title": null, "zindex": 1, "labelOverlap": false, "values": [0,1,2,3,4,5,6,7,8,9,10,11,12,13,14,15,16], "labelExpr": "datum.value % 2 ? '' : datum.label"}},
"y": {"field": "y", "type": "quantitative", "axis": {"title": null, "zindex": 1, "labelOverlap": false, "values": [0,10,20,30,40,50,60,70,80,90,100], "labelExpr": "datum.value % 20 ? '' : datum.label"}},
"stroke": {"field": "m", "type": "nominal", "sort": ["pu","re","gr","or"], "scale": {"domain": ["pu","re","gr","or"], "range": ["#5a3b9c","#e8222a","#3a9a3e","#f47c20"]}, "legend": null}
}
},
{
"transform": [{"joinaggregate": [{"op": "max", "field": "grp", "as": "g"}], "groupby": ["p"]}, {"filter": "datum.k === 'o'"}],
"mark": {"type": "point", "filled": true, "size": 120, "stroke": "#3a2222", "strokeWidth": 1.4, "opacity": 1},
"encoding": {
"x": {"field": "x", "type": "quantitative", "axis": {"title": null, "zindex": 1, "labelOverlap": false, "values": [0,1,2,3,4,5,6,7,8,9,10,11,12,13,14,15,16], "labelExpr": "datum.value % 2 ? '' : datum.label"}},
"y": {"field": "y", "type": "quantitative", "axis": {"title": null, "zindex": 1, "labelOverlap": false, "values": [0,10,20,30,40,50,60,70,80,90,100], "labelExpr": "datum.value % 20 ? '' : datum.label"}},
"color": {"field": "g", "type": "nominal", "scale": {"domain": ["A","B"], "range": ["#8d6b6b","#8a8a8a"]}, "legend": null}
}
},
{
"transform": [{"filter": "datum.k === 'b'"}],
"mark": {"type": "rect", "filled": false, "stroke": "#ff2020", "strokeWidth": 3.5},
"encoding": {
"x": {"field": "x", "type": "quantitative", "axis": {"title": null, "zindex": 1, "labelOverlap": false, "values": [0,1,2,3,4,5,6,7,8,9,10,11,12,13,14,15,16], "labelExpr": "datum.value % 2 ? '' : datum.label"}},
"x2": {"field": "x2"},
"y": {"field": "y", "type": "quantitative", "axis": {"title": null, "zindex": 1, "labelOverlap": false, "values": [0,10,20,30,40,50,60,70,80,90,100], "labelExpr": "datum.value % 20 ? '' : datum.label"}},
"y2": {"field": "y2"}
}
},
{
"transform": [{"filter": "datum.k === 'p'"}],
"mark": {"type": "text", "align": "left", "baseline": "middle", "font": "Liberation Sans", "fontStyle": "italic", "fontWeight": "bold", "fontSize": 26, "color": "#2a1616"},
"encoding": {
"x": {"datum": 0.4, "type": "quantitative", "axis": {"title": null, "zindex": 1, "labelOverlap": false, "values": [0,1,2,3,4,5,6,7,8,9,10,11,12,13,14,15,16], "labelExpr": "datum.value % 2 ? '' : datum.label"}},
"y": {"datum": 92.5, "type": "quantitative", "axis": {"title": null, "zindex": 1, "labelOverlap": false, "values": [0,10,20,30,40,50,60,70,80,90,100], "labelExpr": "datum.value % 20 ? '' : datum.label"}},
"text": {"field": "p"}
}
},
{
"transform": [{"filter": "datum.k === 'p' && indexof(['PONT','MOLO','MALO','BROT','MOIR','BEAR'], datum.p) >= 0"}],
"mark": {"type": "text", "align": "right", "baseline": "middle", "font": "Liberation Sans", "fontWeight": "bold", "fontSize": 23, "color": "#4a3030"},
"encoding": {
"x": {"datum": 15.55, "type": "quantitative", "axis": {"title": null, "zindex": 1, "labelOverlap": false, "values": [0,1,2,3,4,5,6,7,8,9,10,11,12,13,14,15,16], "labelExpr": "datum.value % 2 ? '' : datum.label"}},
"y": {"datum": 9, "type": "quantitative", "axis": {"title": null, "zindex": 1, "labelOverlap": false, "values": [0,10,20,30,40,50,60,70,80,90,100], "labelExpr": "datum.value % 20 ? '' : datum.label"}},
"text": {"field": "yr"}
}
},
{
"transform": [{"filter": "datum.k === 'p' && indexof(['PONT','MOLO','MALO','BROT','MOIR','BEAR'], datum.p) < 0"}],
"mark": {"type": "text", "align": "right", "baseline": "middle", "font": "Liberation Sans", "fontWeight": "bold", "fontSize": 23, "color": "#4a3030"},
"encoding": {
"x": {"datum": 15.55, "type": "quantitative", "axis": {"title": null, "zindex": 1, "labelOverlap": false, "values": [0,1,2,3,4,5,6,7,8,9,10,11,12,13,14,15,16], "labelExpr": "datum.value % 2 ? '' : datum.label"}},
"y": {"datum": 95, "type": "quantitative", "axis": {"title": null, "zindex": 1, "labelOverlap": false, "values": [0,10,20,30,40,50,60,70,80,90,100], "labelExpr": "datum.value % 20 ? '' : datum.label"}},
"text": {"field": "yr"}
}
}
]
}
}],
"config": {
"view": {"stroke": null},
"header": {"labels": false, "title": null},
"axis": {"domain": false, "grid": false, "ticks": true, "tickSize": 5, "tickColor": "#3b2323", "tickWidth": 1.5, "labelColor": "#3b2323", "labelFont": "Liberation Sans", "labelFontSize": 24, "labelPadding": 2, "labelOverlap": false, "labelFlush": false, "labelBound": false},
"axisY": {"labelBaseline": "middle"}
}
}
